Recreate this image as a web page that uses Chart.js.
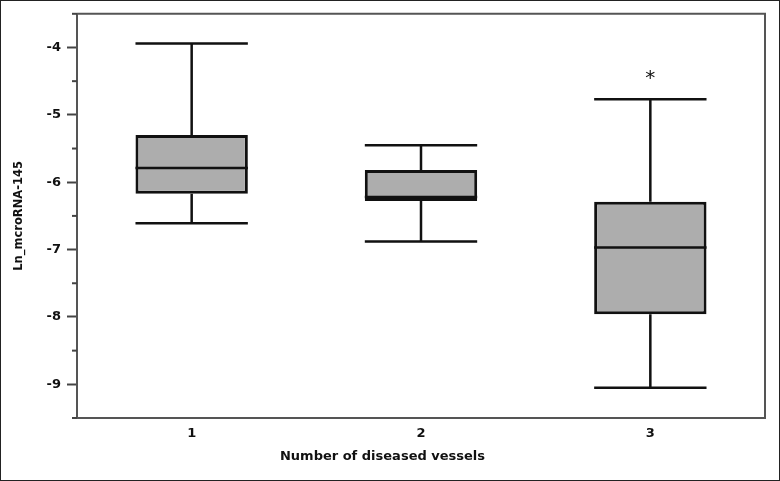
<!DOCTYPE html>
<html>
<head>
<meta charset="utf-8">
<script src="https://cdn.jsdelivr.net/npm/chart.js@4.4.0/dist/chart.umd.min.js"></script>
<style>
html,body{margin:0;padding:0;background:#fff;}
#wrap{width:780px;height:481px;position:relative;}
</style>
</head>
<body>
<div id="wrap"><canvas id="c" width="780" height="481"></canvas></div>
<script>
// ---- data ----
const categories = ['1', '2', '3'];
const whiskerMin = [-6.61, -6.88, -9.05];
const q1 = [-6.17, -6.28, -7.96];
const median = [-5.79, -6.22, -6.97];
const q3 = [-5.30, -5.82, -6.29];
const whiskerMax = [-3.94, -5.45, -4.77];
const outliers = [[], [], [-4.40]];
const yTickMin = -9.5;
const yTickMax = -3.5;
const yTickStep = 0.5;
const xTitle = 'Number of diseased vessels';
const yTitle = 'Ln_mcroRNA-145';

const boxData = categories.map((c, i) => [q1[i], q3[i]]);
const FONT = "'DejaVu Sans', sans-serif";

const boxPlugin = {
  id: 'boxParts',
  beforeDraw(chart) {
    const ctx = chart.ctx;
    ctx.save();
    ctx.fillStyle = '#fff';
    ctx.fillRect(0, 0, chart.width, chart.height);
    ctx.restore();
  },
  beforeDatasetsDraw(chart) {
    const ctx = chart.ctx;
    const y = chart.scales.y;
    const meta = chart.getDatasetMeta(0);
    ctx.save();
    ctx.strokeStyle = '#111';
    ctx.lineWidth = 2.5;
    meta.data.forEach((el, i) => {
      const x = el.x, w = el.width;
      const pMax = y.getPixelForValue(whiskerMax[i]);
      const pMin = y.getPixelForValue(whiskerMin[i]);
      const pQ3 = y.getPixelForValue(q3[i]);
      const pQ1 = y.getPixelForValue(q1[i]);
      ctx.beginPath();
      ctx.moveTo(x, pMax); ctx.lineTo(x, pQ3);
      ctx.moveTo(x, pQ1); ctx.lineTo(x, pMin);
      ctx.moveTo(x - w / 2, pMax); ctx.lineTo(x + w / 2, pMax);
      ctx.moveTo(x - w / 2, pMin); ctx.lineTo(x + w / 2, pMin);
      ctx.stroke();
    });
    ctx.restore();
  },
  afterDatasetsDraw(chart) {
    const ctx = chart.ctx;
    const y = chart.scales.y;
    const meta = chart.getDatasetMeta(0);
    ctx.save();
    ctx.strokeStyle = '#111';
    ctx.lineWidth = 2.5;
    meta.data.forEach((el, i) => {
      const x = el.x, w = el.width;
      const pMed = y.getPixelForValue(median[i]);
      ctx.beginPath();
      ctx.moveTo(x - w / 2, pMed); ctx.lineTo(x + w / 2, pMed);
      ctx.stroke();
      // outliers as asterisks
      ctx.fillStyle = '#111';
      ctx.font = "20px 'DejaVu Sans', sans-serif";
      ctx.textAlign = 'center';
      ctx.textBaseline = 'alphabetic';
      outliers[i].forEach(v => {
        const py = y.getPixelForValue(v);
        const m = ctx.measureText('*');
        const base = py + (m.actualBoundingBoxAscent - m.actualBoundingBoxDescent) / 2;
        ctx.fillText('*', x, base);
      });
    });
    ctx.restore();
  },
  afterDraw(chart) {
    const ctx = chart.ctx;
    const a = chart.chartArea;
    const y = chart.scales.y;
    ctx.save();
    // minor ticks
    ctx.strokeStyle = '#444';
    ctx.lineWidth = 2;
    y.ticks.forEach(t => {
      if (!Number.isInteger(t.value)) {
        const py = y.getPixelForValue(t.value);
        ctx.beginPath();
        ctx.moveTo(a.left - 5, py); ctx.lineTo(a.left, py);
        ctx.stroke();
      }
    });
    // plot frame top/right
    ctx.strokeStyle = '#555';
    ctx.lineWidth = 2;
    ctx.beginPath();
    ctx.moveTo(a.left, a.top); ctx.lineTo(a.right, a.top); ctx.lineTo(a.right, a.bottom);
    ctx.stroke();
    // outer image border
    ctx.strokeStyle = '#222';
    ctx.lineWidth = 1;
    ctx.strokeRect(0.5, 0.5, chart.width - 1, chart.height - 1);
    ctx.restore();
  }
};

new Chart(document.getElementById('c'), {
  type: 'bar',
  data: {
    labels: categories,
    datasets: [{
      data: boxData,
      backgroundColor: '#adadad',
      borderColor: '#111',
      borderWidth: 3,
      borderSkipped: false,
      categoryPercentage: 1,
      barPercentage: 0.49
    }]
  },
  options: {
    responsive: false,
    animation: false,
    devicePixelRatio: 1,
    layout: { padding: { left: 0, top: 13, right: 15, bottom: 0 } },
    plugins: {
      legend: { display: false },
      tooltip: { enabled: false },
      title: {
        display: true,
        position: 'bottom',
        text: xTitle,
        color: '#111',
        font: { family: FONT, size: 13, weight: 'bold' },
        padding: { top: 4, bottom: 17 }
      }
    },
    scales: {
      x: {
        grid: { display: false, drawTicks: false },
        border: { display: true, color: '#555', width: 2 },
        ticks: { color: '#111', font: { family: FONT, size: 13, weight: 'bold' }, padding: 8 },
        afterFit(s) { s.height = 26.4; }
      },
      y: {
        min: yTickMin,
        max: yTickMax,
        ticks: {
          stepSize: yTickStep,
          color: '#111',
          font: { family: FONT, size: 13, weight: 'bold' },
          padding: 6,
          autoSkip: false,
          callback: v => Number.isInteger(v) ? String(v) : ''
        },
        grid: {
          drawOnChartArea: false,
          drawTicks: true,
          tickLength: 10,
          tickWidth: 2,
          tickColor: ctx => (ctx.tick && Number.isInteger(ctx.tick.value)) ? '#444' : 'rgba(0,0,0,0)'
        },
        border: { display: true, color: '#555', width: 2 },
        title: { display: true, text: yTitle, color: '#111', font: { family: FONT, size: 11.5, weight: 'bold' }, padding: { top: 12, bottom: 0 } },
        afterFit(s) { s.width = 77; }
      }
    }
  },
  plugins: [boxPlugin]
});
</script>
</body>
</html>
